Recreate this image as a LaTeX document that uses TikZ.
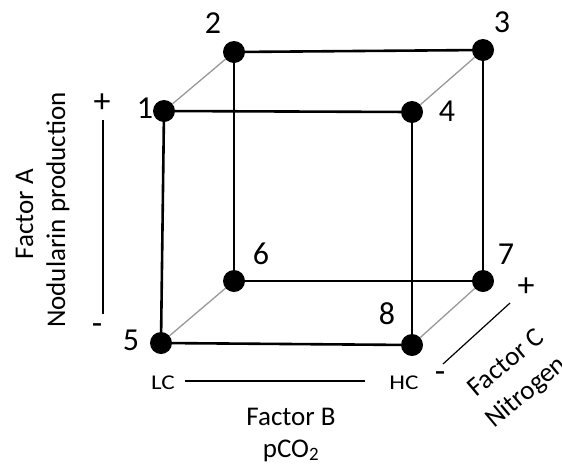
\documentclass[tikz,border=0pt]{standalone}
\usepackage{fontspec}
\setmainfont{Carlito}
\newfontfamily\widefont[FakeStretch=1.2]{Carlito}
\begin{document}
\begin{tikzpicture}[x=1pt,y=-1pt,
  vtx/.style={circle,fill=black,inner sep=0pt,minimum size=22pt},
  edge/.style={line width=2.6pt,black},
  depth/.style={line width=1.3pt,gray!80},
  axis/.style={line width=1.2pt,black},
  num/.style={font=\fontsize{32}{32}\selectfont},
  lab/.style={font=\fontsize{27}{30}\selectfont,anchor=base,inner sep=0pt},
  sgn/.style={font=\fontsize{34}{34}\selectfont},
  small/.style={font=\widefont\fontsize{21}{24}\selectfont,anchor=base,inner sep=0pt}]
\useasboundingbox (0,0) rectangle (562,464);
\fill[white] (0,0) rectangle (562,464);
% vertices
\node[vtx] (v1) at (164,111) {};
\node[vtx] (v2) at (234,52) {};
\node[vtx] (v3) at (483,50) {};
\node[vtx] (v4) at (412,112) {};
\node[vtx] (v5) at (161,343) {};
\node[vtx] (v6) at (234,281) {};
\node[vtx] (v7) at (483,281) {};
\node[vtx] (v8) at (412,345) {};
% depth edges
\draw[depth] (v1) -- (v2);
\draw[depth] (v4) -- (v3);
\draw[depth] (v5) -- (v6);
\draw[depth] (v8) -- (v7);
% edges
\draw[edge] (v2) -- (v3);
\draw[edge] (v2) -- (v6);
\draw[edge] (v3) -- (v7);
\draw[edge] (v6) -- (v7);
\draw[edge] (v1) -- (v4);
\draw[edge] (v1.center) -- (v5.center);
\draw[edge] (v4) -- (v8);
\draw[edge] (v5) -- (v8);
% numbers
\node[num] (n1) at (145,108) {1};
\node[num] (n2) at (213,23) {2};
\node[num] (n3) at (502,22) {3};
\node[num] (n4) at (447,111) {4};
\node[num] (n5) at (131,340) {5};
\node[num] (n6) at (261,254) {6};
\node[num] (n7) at (506,254) {7};
\node[num] (n8) at (387,314) {8};
% Factor A
\node[lab,rotate=90] (fa1) at (33,214) {Factor A};
\node[lab,rotate=90] (fa2) at (65,210) {Nodularin production};
\node[sgn] (ap) at (102,103) {+};
\node[sgn] (am) at (97,329) {-};
\coordinate (a1) at (103,120);
\coordinate (a2) at (103,314);
\draw[axis] (a1) -- (a2);
% Factor B
\node[small] (lc) at (163,389) {LC};
\node[small] (hc) at (404,389) {HC};
\coordinate (b1) at (185,381);
\coordinate (b2) at (365,381);
\draw[axis] (b1) -- (b2);
\node[lab] (fb1) at (291,425) {Factor B};
\node[lab] (fb2) at (291,457) {pCO\textsubscript{2}};
% Factor C
\node[sgn] (cm) at (440,377) {-};
\node[sgn] (cp) at (526,287) {+};
\coordinate (c1) at (443,364);
\coordinate (c2) at (510,303);
\draw[axis] (c1) -- (c2);
\node[lab,rotate=40] (fc1) at (511,369) {Factor C};
\node[lab,rotate=40] (fc2) at (531,398) {Nitrogen};
\end{tikzpicture}
\end{document}
